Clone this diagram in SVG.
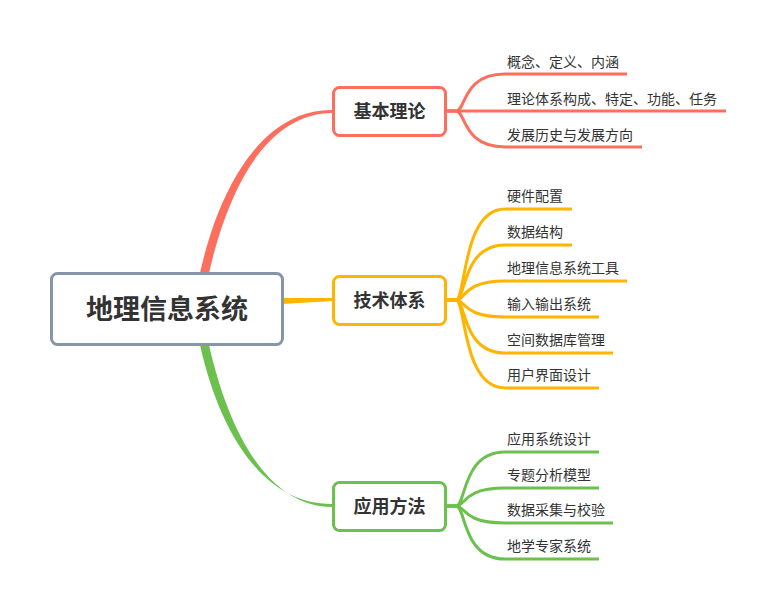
<svg xmlns="http://www.w3.org/2000/svg" width="776" height="611" viewBox="0 0 776 611">
<style>
.leaf{fill:none;stroke-width:3;stroke-linecap:butt}
.r{stroke:#fd6e5c}.o{stroke:#ffb400}.g{stroke:#6cc04e}
.lt{font-family:"Noto Sans CJK SC","Noto Sans",sans-serif;font-size:14px;fill:#333}
.bt{font-family:"Noto Sans CJK SC","Noto Sans",sans-serif;font-size:18px;font-weight:bold;fill:#333;text-anchor:middle}
.box{fill:#fff;stroke-width:3}
</style>
<rect width="776" height="611" fill="#fff"/>
<g id="connectors">
<path d="M200,273 C221,180 266,109 333,110 L333,113 C270,113 230,181 209,273 Z" fill="#fd6e5c"/>
<path d="M282,298 L333,298 L333,301 L282,304 Z" fill="#ffb400"/>
<path d="M200,345 C221,438 266,505 333,504 L333,507 C270,507 230,437 209,345 Z" fill="#6cc04e"/>
<path class="leaf r" d="M446,111 L456,111 C466,111 462,74 505,74 L627,74"/>
<path class="leaf r" d="M446,111 L726,111"/>
<path class="leaf r" d="M446,111 L456,111 C466,111 462,147 505,147 L642,147"/>
<path class="leaf o" d="M446,300 L456,300 C466,300 462,209 505,209 L572,209"/>
<path class="leaf o" d="M446,300 L456,300 C466,300 462,245 505,245 L572,245"/>
<path class="leaf o" d="M446,300 L456,300 C466,300 462,281 505,281 L627,281"/>
<path class="leaf o" d="M446,300 L456,300 C466,300 462,317 505,317 L599,317"/>
<path class="leaf o" d="M446,300 L456,300 C466,300 462,353 505,353 L613,353"/>
<path class="leaf o" d="M446,300 L456,300 C466,300 462,388 505,388 L599,388"/>
<path class="leaf g" d="M446,506 L456,506 C466,506 462,452 505,452 L599,452"/>
<path class="leaf g" d="M446,506 L456,506 C466,506 462,488 505,488 L599,488"/>
<path class="leaf g" d="M446,506 L456,506 C466,506 462,523 505,523 L613,523"/>
<path class="leaf g" d="M446,506 L456,506 C466,506 462,559 505,559 L599,559"/>
</g>
<g id="root">
<rect class="box" x="51.5" y="273.5" width="231" height="71" rx="6" stroke="#8795a8"/>
<text x="167" y="319" font-family="'Noto Sans CJK SC',sans-serif" font-size="27" font-weight="bold" fill="#333" text-anchor="middle">地理信息系统</text>
</g>
<g id="b1">
<rect class="box r" x="333.5" y="87.5" width="112" height="48" rx="6"/>
<text class="bt" x="389.5" y="118">基本理论</text>
</g>
<g id="b2">
<rect class="box o" x="333.5" y="276.5" width="112" height="48" rx="6"/>
<text class="bt" x="389.5" y="307">技术体系</text>
</g>
<g id="b3">
<rect class="box g" x="333.5" y="482.5" width="112" height="48" rx="6"/>
<text class="bt" x="389.5" y="513">应用方法</text>
</g>
<g id="l1"><text class="lt" x="507" y="67">概念、定义、内涵</text></g>
<g id="l2"><text class="lt" x="507" y="104">理论体系构成、特定、功能、任务</text></g>
<g id="l3"><text class="lt" x="507" y="140">发展历史与发展方向</text></g>
<g id="l4"><text class="lt" x="507" y="201">硬件配置</text></g>
<g id="l5"><text class="lt" x="507" y="237">数据结构</text></g>
<g id="l6"><text class="lt" x="507" y="273">地理信息系统工具</text></g>
<g id="l7"><text class="lt" x="507" y="309">输入输出系统</text></g>
<g id="l8"><text class="lt" x="507" y="345">空间数据库管理</text></g>
<g id="l9"><text class="lt" x="507" y="380">用户界面设计</text></g>
<g id="l10"><text class="lt" x="507" y="444">应用系统设计</text></g>
<g id="l11"><text class="lt" x="507" y="480">专题分析模型</text></g>
<g id="l12"><text class="lt" x="507" y="515">数据采集与校验</text></g>
<g id="l13"><text class="lt" x="507" y="551">地学专家系统</text></g>
</svg>
